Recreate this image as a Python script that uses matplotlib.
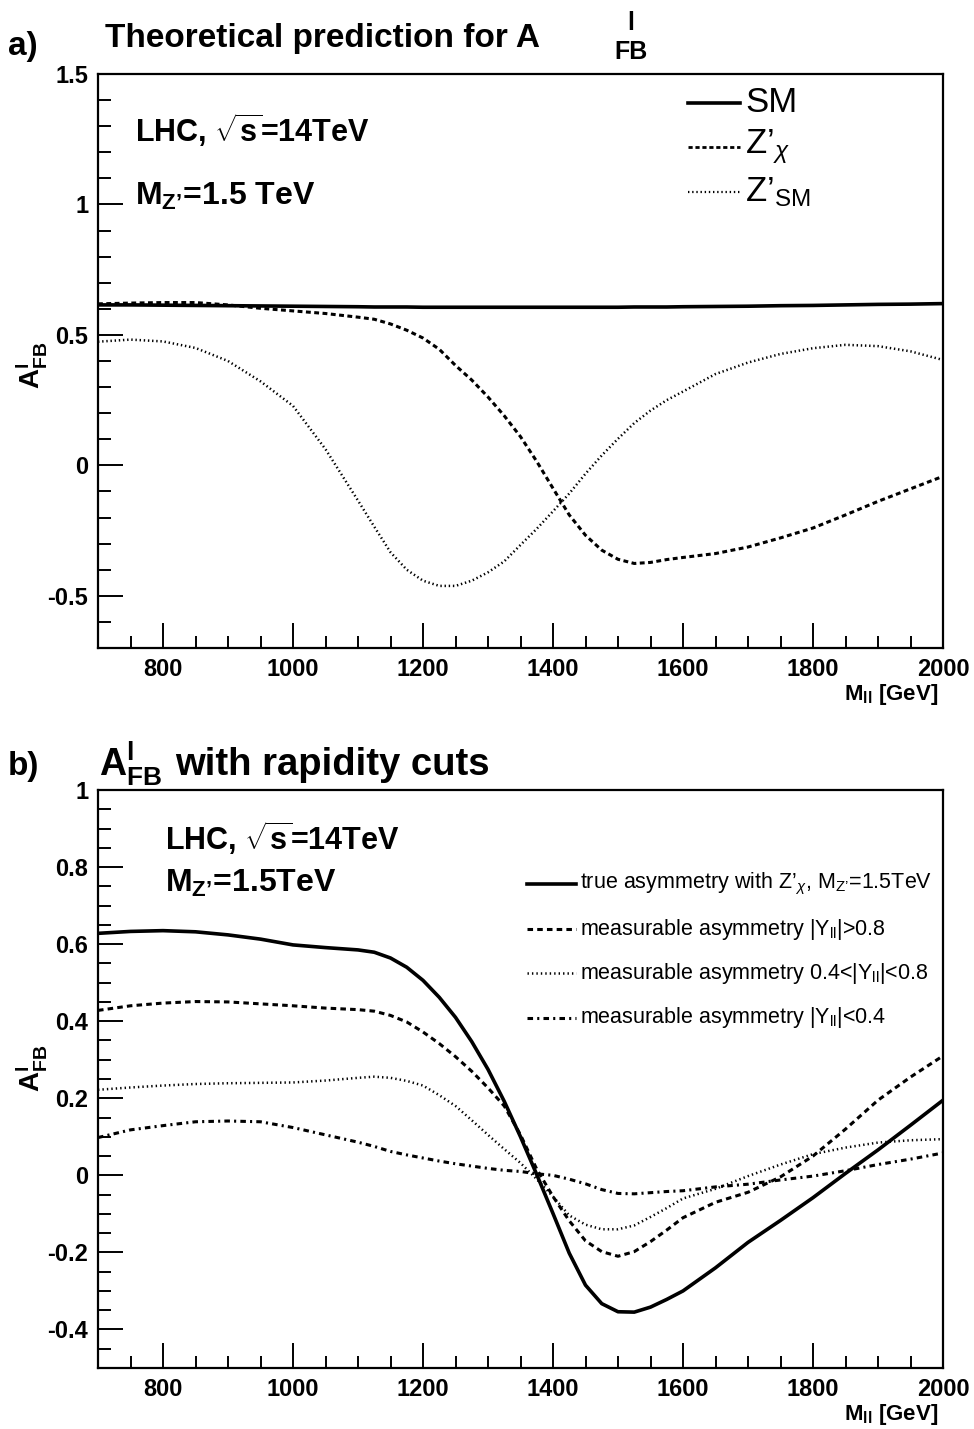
import numpy as np
import matplotlib
matplotlib.use("Agg")
import matplotlib.pyplot as plt
from matplotlib.ticker import MultipleLocator, FuncFormatter
from matplotlib.lines import Line2D

plt.rcParams['font.family'] = ['Liberation Sans', 'DejaVu Sans']
plt.rcParams['mathtext.fontset'] = 'custom'
plt.rcParams['mathtext.rm'] = 'Liberation Sans'
plt.rcParams['mathtext.bf'] = 'Liberation Sans:bold'
plt.rcParams['mathtext.it'] = 'Liberation Sans:italic'
plt.rcParams['mathtext.sf'] = 'Liberation Sans'
plt.rcParams['lines.scale_dashes'] = False

# ---------------- data ----------------
mass = [700, 750, 800, 850, 900, 950, 1000, 1050, 1100, 1125, 1150, 1175, 1200, 1225, 1250,
        1275, 1300, 1325, 1350, 1375, 1400, 1425, 1450, 1475, 1500, 1525, 1550, 1575, 1600,
        1650, 1700, 1750, 1800, 1850, 1900, 1950, 2000]

# panel a) theoretical prediction
afb_sm = [0.615, 0.615, 0.614, 0.613, 0.612, 0.611, 0.610, 0.609, 0.608, 0.607, 0.607, 0.607,
          0.606, 0.606, 0.606, 0.606, 0.606, 0.606, 0.606, 0.606, 0.606, 0.606, 0.606, 0.606,
          0.606, 0.607, 0.607, 0.607, 0.608, 0.609, 0.610, 0.612, 0.613, 0.615, 0.617, 0.618,
          0.620]
afb_zchi = [0.619, 0.622, 0.624, 0.624, 0.615, 0.602, 0.592, 0.582, 0.568, 0.560, 0.542, 0.518,
            0.488, 0.445, 0.383, 0.327, 0.262, 0.190, 0.110, 0.015, -0.088, -0.190, -0.268,
            -0.325, -0.360, -0.376, -0.372, -0.361, -0.353, -0.338, -0.313, -0.278, -0.240,
            -0.190, -0.138, -0.090, -0.042]
afb_zsm = [0.474, 0.482, 0.475, 0.450, 0.400, 0.322, 0.228, 0.062, -0.135, -0.235, -0.333,
           -0.400, -0.442, -0.462, -0.462, -0.442, -0.410, -0.368, -0.305, -0.243, -0.176,
           -0.108, -0.032, 0.038, 0.102, 0.162, 0.210, 0.250, 0.283, 0.350, 0.394, 0.427,
           0.449, 0.462, 0.457, 0.437, 0.404]

# panel b) with rapidity cuts
afb_true = [0.628, 0.633, 0.635, 0.632, 0.624, 0.613, 0.598, 0.591, 0.585, 0.579, 0.564, 0.540,
            0.506, 0.462, 0.410, 0.347, 0.275, 0.192, 0.100, 0.002, -0.099, -0.202, -0.285,
            -0.333, -0.354, -0.355, -0.342, -0.322, -0.300, -0.240, -0.174, -0.117, -0.058,
            0.005, 0.066, 0.130, 0.195]
afb_ygt08 = [0.428, 0.440, 0.447, 0.451, 0.450, 0.445, 0.440, 0.434, 0.430, 0.426, 0.415, 0.398,
             0.372, 0.342, 0.308, 0.270, 0.227, 0.180, 0.105, 0.016, -0.055, -0.118, -0.170,
             -0.198, -0.210, -0.198, -0.172, -0.142, -0.110, -0.070, -0.044, -0.004, 0.050,
             0.120, 0.195, 0.255, 0.310]
afb_y0408 = [0.222, 0.228, 0.233, 0.237, 0.239, 0.240, 0.241, 0.246, 0.253, 0.256, 0.253, 0.245,
             0.233, 0.208, 0.180, 0.143, 0.105, 0.068, 0.032, -0.010, -0.055, -0.104, -0.128,
             -0.140, -0.140, -0.130, -0.108, -0.085, -0.060, -0.035, -0.002, 0.028, 0.055,
             0.072, 0.085, 0.091, 0.094]
afb_ylt04 = [0.098, 0.118, 0.129, 0.139, 0.141, 0.139, 0.124, 0.105, 0.086, 0.075, 0.062, 0.053,
             0.045, 0.037, 0.030, 0.024, 0.018, 0.013, 0.010, 0.004, 0.000, -0.010, -0.022,
             -0.037, -0.047, -0.048, -0.045, -0.042, -0.040, -0.030, -0.023, -0.012, -0.002,
             0.012, 0.028, 0.042, 0.058]

W, H = 974, 1429
fig = plt.figure(figsize=(W / 100, H / 100), dpi=100)
fig.patch.set_facecolor('white')


def fx(x):
    return x / W


def fy(y):
    return 1 - y / H


def txt(x, y, s, **kw):
    fig.text(fx(x), fy(y), s, **kw)


def hline(x0, x1, y, **kw):
    fig.add_artist(Line2D([fx(x0), fx(x1)], [fy(y), fy(y)], transform=fig.transFigure, **kw))


fmt = FuncFormatter(lambda v, p: f"{v + 0.0:g}")


def style_axes(ax, ymaj, ymin):
    ax.set_xlim(700, 2000)
    ax.xaxis.set_major_locator(MultipleLocator(200))
    ax.xaxis.set_minor_locator(MultipleLocator(50))
    ax.yaxis.set_major_locator(MultipleLocator(ymaj))
    ax.yaxis.set_minor_locator(MultipleLocator(ymin))
    ax.xaxis.set_major_formatter(fmt)
    ax.yaxis.set_major_formatter(fmt)
    ax.tick_params(which='both', direction='in', top=False, right=False, width=1.4)
    ax.tick_params(which='major', length=18, labelsize=17, pad=7)
    ax.tick_params(which='minor', length=9)
    for lbl in ax.get_xticklabels() + ax.get_yticklabels():
        lbl.set_fontweight('bold')
    for sp in ax.spines.values():
        sp.set_linewidth(1.6)


# ---------------- panel a ----------------
ax1 = fig.add_axes([fx(98), fy(648), 845 / W, 574 / H])
ax1.set_ylim(-0.7, 1.5)
style_axes(ax1, 0.5, 0.1)
ax1.plot(mass, afb_sm, color='black', lw=2.6, solid_capstyle='butt')
ax1.plot(mass, afb_zchi, color='black', lw=2.2, dashes=(3.5, 2.5))
ax1.plot(mass, afb_zsm, color='black', lw=1.8, dashes=(1.0, 2.0))

txt(8, 55, "a)", fontsize=24, fontweight='bold')
txt(105, 47, "Theoretical prediction for A", fontsize=24, fontweight='bold')
txt(627, 30, "l", fontsize=18, fontweight='bold')
txt(614, 59, "FB", fontsize=18, fontweight='bold')
txt(135, 142, r"LHC, $\sqrt{\mathbf{s}}$=14TeV", fontsize=22, fontweight='bold')
txt(135, 205, r"M$_{\mathbf{Z’}}$=1.5 TeV", fontsize=23, fontweight='bold')

# legend a
hline(688, 740, 103, color='black', lw=2.6)
hline(688, 740, 147, color='black', lw=2.0, dashes=(3.0, 2.0))
hline(688, 740, 192, color='black', lw=1.6, dashes=(1.0, 2.0))
txt(745, 103, "SM", fontsize=25, va='center')
txt(745, 147, r"Z’$_{\chi}$", fontsize=25, va='center')
txt(745, 192, r"Z’$_{\rm SM}$", fontsize=25, va='center')

txt(31, 365, r"$\mathbf{A^{l}_{FB}}$", fontsize=20, rotation=90, ha='center', va='center')
txt(938, 700, r"M$_{\mathbf{ll}}$ [GeV]", fontsize=16, fontweight='bold', ha='right')

# ---------------- panel b ----------------
ax2 = fig.add_axes([fx(98), fy(1368), 845 / W, 578 / H])
ax2.set_ylim(-0.5, 1.0)
style_axes(ax2, 0.2, 0.05)
ax2.plot(mass, afb_true, color='black', lw=2.6)
ax2.plot(mass, afb_ygt08, color='black', lw=2.2, dashes=(4.0, 3.0))
ax2.plot(mass, afb_y0408, color='black', lw=1.8, dashes=(1.0, 2.2))
ax2.plot(mass, afb_ylt04, color='black', lw=2.2, dashes=(4.0, 3.0, 1.5, 3.0))

txt(8, 775, "b)", fontsize=24, fontweight='bold')
txt(99, 775, r"$\mathbf{A^{l}_{FB}}$", fontsize=27, fontweight='bold')
txt(175, 775, "with rapidity cuts", fontsize=27.5, fontweight='bold')
txt(165, 850, r"LHC, $\sqrt{\mathbf{s}}$=14TeV", fontsize=22, fontweight='bold')
txt(165, 892, r"M$_{\mathbf{Z’}}$=1.5TeV", fontsize=23, fontweight='bold')

rows = [884, 929, 973, 1018]
hline(527, 576, rows[0], color='black', lw=2.6)
hline(527, 576, rows[1], color='black', lw=2.2, dashes=(4.0, 3.0))
hline(527, 576, rows[2], color='black', lw=1.8, dashes=(1.0, 2.2))
hline(527, 576, rows[3], color='black', lw=2.2, dashes=(4.0, 3.0, 1.5, 3.0))
labels_b = [r"true asymmetry with Z’$_{\chi}$, M$_{\rm Z’}$=1.5TeV",
            r"measurable asymmetry |Y$_{\rm ll}$|>0.8",
            r"measurable asymmetry 0.4<|Y$_{\rm ll}$|<0.8",
            r"measurable asymmetry |Y$_{\rm ll}$|<0.4"]
for r, s in zip(rows, labels_b):
    txt(580, r, s, fontsize=15.5, va='center')

txt(31, 1068, r"$\mathbf{A^{l}_{FB}}$", fontsize=20, rotation=90, ha='center', va='center')
txt(938, 1420, r"M$_{\mathbf{ll}}$ [GeV]", fontsize=16, fontweight='bold', ha='right')

fig.savefig("out.png", dpi=100, facecolor='white')
